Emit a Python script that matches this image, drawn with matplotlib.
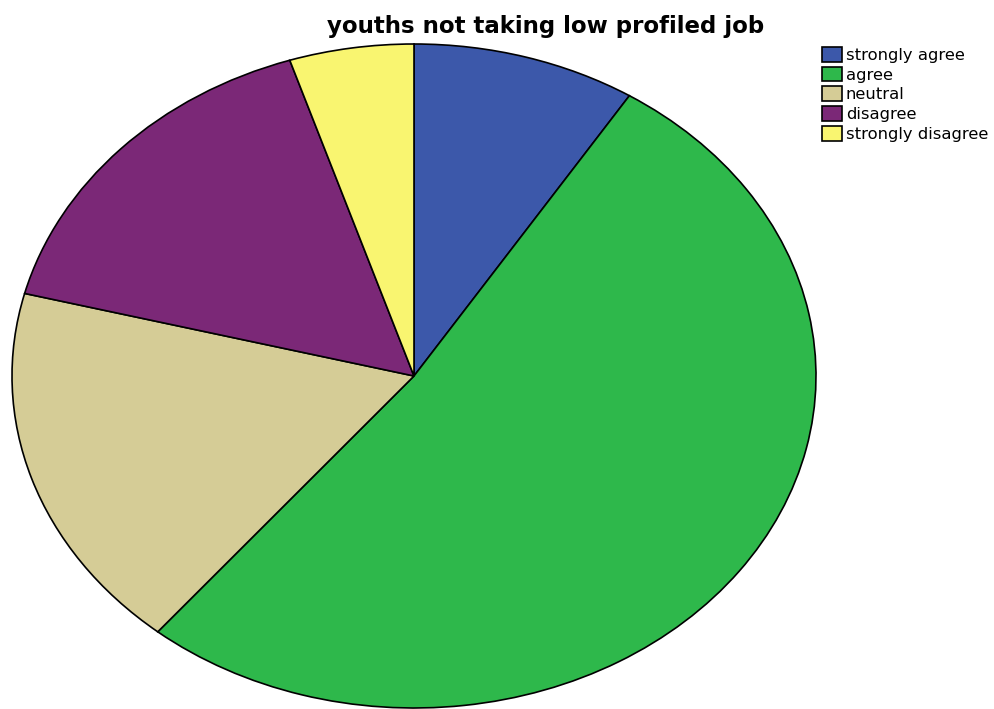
import matplotlib.pyplot as plt

labels = ['strongly agree', 'agree', 'neutral', 'disagree', 'strongly disagree']
counts = [9, 52, 18, 16, 5]
colors = ['#3C58AA', '#2EB84B', '#D5CC96', '#7B2877', '#F9F570']

fig = plt.figure(figsize=(9.94, 7.09), dpi=100)
# pie stretched horizontally, so axes are not square
ax = fig.add_axes([12 / 994, 1 / 709, 804 / 994, 664 / 709])
wedges, _ = ax.pie(counts, colors=colors, startangle=90, counterclock=False,
                   wedgeprops=dict(edgecolor='black', linewidth=1.2))
ax.set_aspect('auto')
ax.set_xlim(-1, 1)
ax.set_ylim(-1, 1)
ax.axis('off')

fig.text(0.549, 0.962, 'youths not taking low profiled job', ha='center', va='center',
         fontsize=16.5, fontweight='bold', family='DejaVu Sans')

fig.legend(wedges, labels, loc='upper left', bbox_to_anchor=(822 / 994, 1 - 47 / 709),
           frameon=False, fontsize=11.8, handlelength=1.2, handleheight=1.0,
           handletextpad=0.25, labelspacing=0.23, borderpad=0, borderaxespad=0)

fig.savefig('out.png', dpi=100)
